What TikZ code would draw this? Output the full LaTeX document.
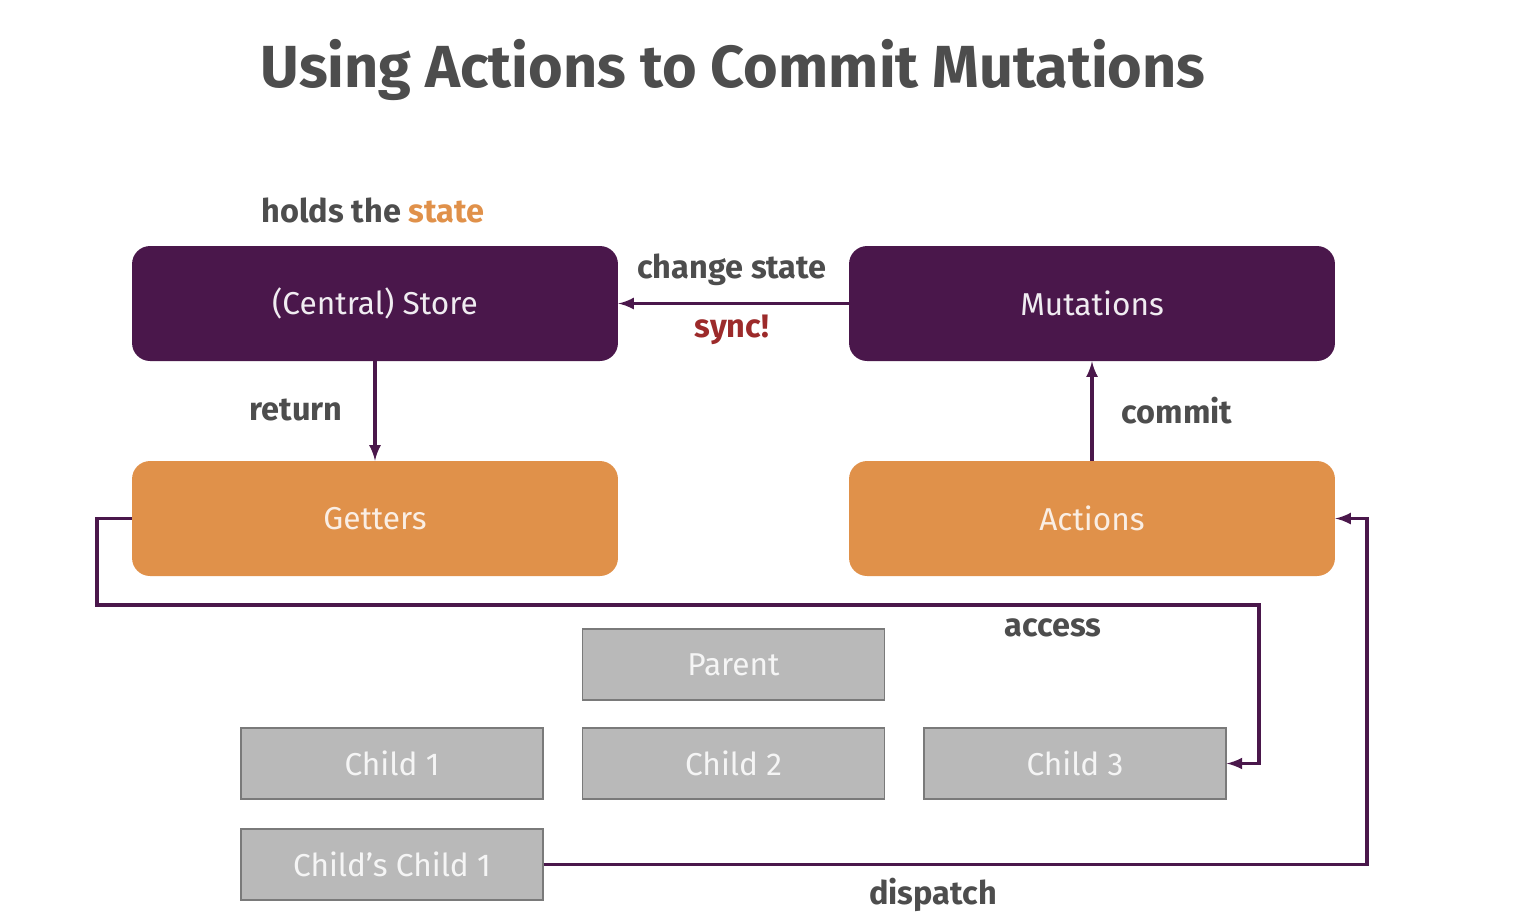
\documentclass[tikz,border=0pt]{standalone}
\usepackage{fontspec}
\setmainfont{Fira Sans}
\usetikzlibrary{arrows,positioning}

\definecolor{vuexpurple}{RGB}{74,23,75}
\definecolor{vuexorange}{RGB}{224,145,74}
\definecolor{labelgray}{RGB}{77,77,77}
\definecolor{syncred}{RGB}{156,42,42}
\definecolor{compfill}{RGB}{185,185,185}
\definecolor{compdraw}{RGB}{122,122,122}

\begin{document}
\begin{tikzpicture}[
    x=0.02cm, y=-0.02cm,
    store/.style={rectangle, rounded corners=0.36cm, minimum width=9.72cm, minimum height=2.3cm, fill=vuexpurple, text=white!92!vuexpurple, font=\fontsize{18}{20}\selectfont},
    helper/.style={rectangle, rounded corners=0.36cm, minimum width=9.72cm, minimum height=2.3cm, fill=vuexorange, text=white!85!vuexorange, font=\fontsize{18}{20}\selectfont},
    comp/.style={rectangle, draw=compdraw, line width=0.8pt, minimum width=6.04cm, minimum height=1.42cm, fill=compfill, text=white!85!compfill, font=\fontsize{18}{20}\selectfont},
    lbl/.style={text=labelgray, font=\bfseries\fontsize{18.5}{21}\selectfont},
    line/.style={draw=vuexpurple, line width=2pt, -latex}
]
\useasboundingbox (0,0) rectangle (1514,914);

\node[text=labelgray, font=\bfseries\fontsize{33.8}{38}\selectfont] (title) at (733,70) {Using Actions to Commit Mutations};

\node[store] (store) at (375,303.5) {(Central) Store};
\node[store] (mutations) at (1092,303.5) {Mutations};
\node[helper] (getters) at (375,518.5) {Getters};
\node[helper] (actions) at (1092,518.5) {Actions};

\node[comp] (parent) at (733.5,664.5) {Parent};
\node[comp] (child1) at (392,763.5) {Child 1};
\node[comp] (child2) at (733.5,763.5) {Child 2};
\node[comp] (child3) at (1075,763.5) {Child 3};
\node[comp] (childchild) at (392,864.5) {Child’s Child 1};

\node[lbl] (holds) at (373,210) {holds the \textcolor{vuexorange}{state}};
\node[lbl] (changestate) at (732,270) {change state};
\node[lbl, text=syncred] (sync) at (732,330) {sync!};
\node[lbl] (return) at (296,410) {return};
\node[lbl] (commit) at (1177,411) {commit};
\node[lbl] (access) at (1053,628) {access};
\node[lbl] (dispatch) at (933,895) {dispatch};

\coordinate (accessleft) at (97,605);
\coordinate (accessright) at (1259,605);
\coordinate (dispatchright) at (1367,864.5);

\draw[line] (mutations) -- (store);
\draw[line] (store) -- (getters);
\draw[line] (actions) -- (mutations);
\draw[line] (getters.west) -| (accessleft) -- (accessright) |- (child3.east);
\draw[line] (childchild.east) -- (dispatchright) |- (actions.east);

\end{tikzpicture}
\end{document}
